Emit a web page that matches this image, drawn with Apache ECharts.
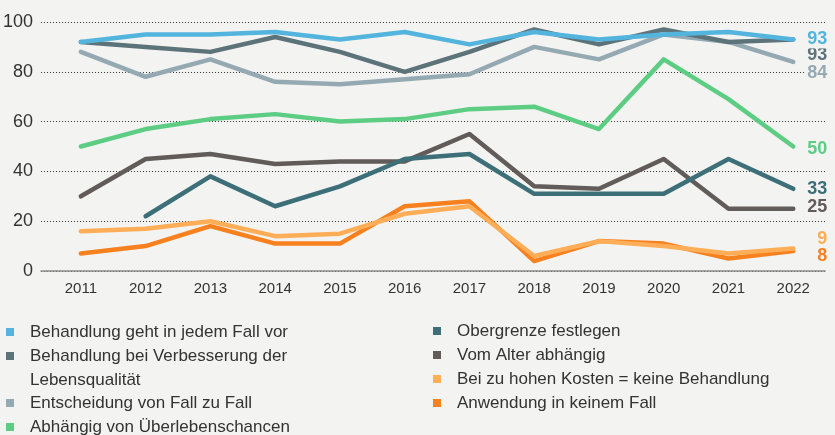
<!DOCTYPE html>
<html>
<head>
<meta charset="utf-8">
<script src="https://cdn.jsdelivr.net/npm/echarts@6/dist/echarts.min.js"></script>
<style>
  html, body { margin: 0; padding: 0; background: #f3f3f1; }
  #chart { width: 835px; height: 435px; }
</style>
</head>
<body>
<div id="chart"></div>
<script>
const years = [2011, 2012, 2013, 2014, 2015, 2016, 2017, 2018, 2019, 2020, 2021, 2022]
const yTicks = [0, 20, 40, 60, 80, 100]

const jedemFall = [92, 95, 95, 96, 93, 96, 91, 96, 93, 95, 96, 93]
const lebensqualitaet = [92, 90, 88, 94, 88, 80, 88, 97, 91, 97, 92, 93]
const fallZuFall = [88, 78, 85, 76, 75, 77, 79, 90, 85, 95, 92, 84]
const ueberleben = [50, 57, 61, 63, 60, 61, 65, 66, 57, 85, 69, 50]
const obergrenze = [null, 22, 38, 26, 34, 45, 47, 31, 31, 31, 45, 33]
const alter = [30, 45, 47, 43, 44, 44, 55, 34, 33, 45, 25, 25]
const kosten = [16, 17, 20, 14, 15, 23, 26, 6, 12, 10, 7, 9]
const keinemFall = [7, 10, 18, 11, 11, 26, 28, 4, 12, 11, 5, 8]

const bg = '#f3f3f1'
const font = 'Liberation Sans'

// name, values, colour, end label y shift, legend column/row
const seriesDefs = [
  { name: 'Behandlung geht in jedem Fall vor', values: jedemFall, color: '#53b4de', dy: 0, left: 6, row: 332 },
  { name: 'Behandlung bei Verbesserung der Lebensqualität', values: lebensqualitaet, color: '#5d737a', dy: 16, left: 6, row: 356, wrap: true },
  { name: 'Entscheidung von Fall zu Fall', values: fallZuFall, color: '#95a9b3', dy: 11, left: 6, row: 403 },
  { name: 'Abhängig von Überlebenschancen', values: ueberleben, color: '#5dcd84', dy: 3, left: 6, row: 427 },
  { name: 'Obergrenze festlegen', values: obergrenze, color: '#3d6f79', dy: 0, left: 433, row: 331 },
  { name: 'Vom Alter abhängig', values: alter, color: '#615b59', dy: -2, left: 433, row: 355 },
  { name: 'Bei zu hohen Kosten = keine Behandlung', values: kosten, color: '#ffae57', dy: -10, left: 433, row: 379 },
  { name: 'Anwendung in keinem Fall', values: keinemFall, color: '#f7801f', dy: 5, left: 433, row: 403 },
]

const chart = echarts.init(document.getElementById('chart'))

// first legend entry drawn on top, so series go in reverse
const series = seriesDefs.slice().reverse().map((sd) => ({
  name: sd.name,
  type: 'line',
  data: years.map((yr, ii) => [yr, sd.values[ii]]),
  symbol: 'none',
  connectNulls: false,
  lineStyle: { width: 4.5, color: sd.color, cap: 'round', join: 'round' },
  itemStyle: { color: sd.color },
  emphasis: { disabled: true },
  endLabel: {
    show: true,
    formatter: (p) => p.value[1],
    color: sd.color,
    fontFamily: font,
    fontWeight: 'bold',
    fontSize: 18,
    align: 'right',
    distance: 36,
    offset: [0, sd.dy],
    backgroundColor: bg,
    padding: [0, 2],
  },
}))

// the wrapped entry gets an empty first line so its icon sits beside line one
const legends = seriesDefs.map((sd) => ({
  data: [sd.name],
  left: sd.left,
  top: sd.wrap ? sd.row - 36 : sd.row - 12,
  padding: 0,
  icon: 'rect',
  itemWidth: 8,
  itemHeight: 8,
  selectedMode: false,
  formatter: sd.wrap ? (nm) => '\n' + nm.replace(' der ', ' der\n') : '{name}',
  textStyle: {
    fontFamily: font,
    fontSize: 17,
    color: '#333',
    lineHeight: 24,
    padding: [0, 0, 0, 11],
  },
}))

chart.setOption({
  backgroundColor: bg,
  animation: false,
  legend: legends,
  grid: { left: 38, right: 10, top: 22, bottom: 164 },
  xAxis: {
    type: 'value',
    min: 2010.385,
    max: 2022.49,
    axisLine: { lineStyle: { color: '#8c8c8c', width: 1.5 } },
    axisTick: { show: false },
    splitLine: { show: false },
    axisLabel: {
      customValues: years,
      formatter: (v) => String(v),
      fontFamily: font,
      fontSize: 15,
      color: '#333',
      margin: 10,
    },
  },
  yAxis: {
    type: 'value',
    min: 0,
    max: 100,
    interval: 20,
    axisLine: { show: false },
    axisTick: { show: false },
    axisLabel: {
      customValues: yTicks,
      fontFamily: font,
      fontSize: 18,
      color: '#333',
      margin: 8,
    },
    splitLine: {
      lineStyle: { color: '#333', width: 1, type: [1, 2] },
    },
  },
  series,
})
</script>
</body>
</html>
